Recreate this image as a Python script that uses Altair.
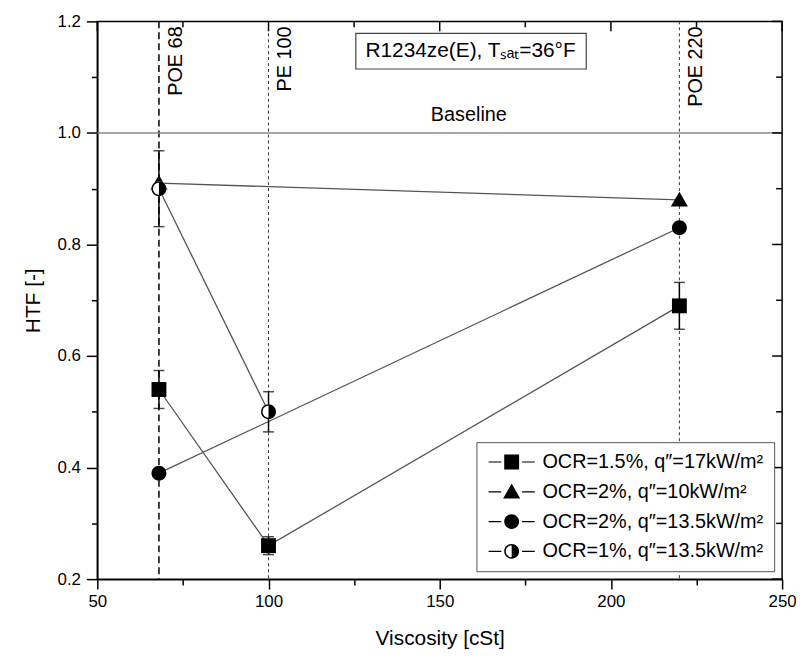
import altair as alt
import pandas as pd

# ---------------- data ----------------
series_names = [
    "OCR=1.5%, q\u2033=17kW/m\u00b2",
    "OCR=2%, q\u2033=10kW/m\u00b2",
    "OCR=2%, q\u2033=13.5kW/m\u00b2",
    "OCR=1%, q\u2033=13.5kW/m\u00b2",
]

sq_x = [68, 100, 220]
sq_y = [0.54, 0.26, 0.69]
sq_err = [0.034, 0.016, 0.042]

tri_x = [68, 220]
tri_y = [0.91, 0.88]

cir_x = [68, 220]
cir_y = [0.39, 0.83]

half_x = [68, 100]
half_y = [0.90, 0.50]
half_err = [0.068, 0.036]

oil_x = [68, 100, 220]
oil_labels = ["POE 68", "PE 100", "POE 220"]
baseline_y = [1.0]

x_ticks = [50, 75, 100, 125, 150, 175, 200, 225, 250]
x_major = [50, 100, 150, 200, 250]
x_minor = [75, 125, 175, 225]
y_ticks = [0.2, 0.3, 0.4, 0.5, 0.6, 0.7, 0.8, 0.9, 1.0, 1.1, 1.2]
y_major = [0.2, 0.4, 0.6, 0.8, 1.0, 1.2]
y_minor = [0.3, 0.5, 0.7, 0.9, 1.1]

title_text = "R1234ze(E), T\u209b\u2090\u209c=36\u00b0F"
title_x = [159]
title_y = [1.1465]
box_x = [125.5, 192.8]
box_y = [1.1146, 1.1786]
baseline_label = "Baseline"
baseline_lab_x = [158.5]
baseline_lab_y = [1.014]

# ---------------- style ----------------
W, H = 690, 562
FONT = "Liberation Sans, Arial, sans-serif"
LINE = "#555555"

P_SQ = "M-1,-1H1V1H-1Z"
P_TRI = "M0,-1.1L1.15,0.9L-1.15,0.9Z"
P_CIR = "M1,0A1,1 0 1,1 -1,0A1,1 0 1,1 1,0Z"
P_HALF = "M0,-1A1,1 0 0,1 0,1Z M0,1A1,1 0 0,1 0,-1L0,-0.8A0.8,0.8 0 0,0 0,0.8Z"
SEG = "M-3.1,-0.08H-1.4V0.08H-3.1Z M1.4,-0.08H3.1V0.08H1.4Z"
legend_paths = [P_SQ + " " + SEG, P_TRI + " " + SEG, P_CIR + " " + SEG, P_HALF + " " + SEG]

xs = alt.Scale(domain=[50, 250], nice=False, zero=False)
ys = alt.Scale(domain=[0.2, 1.2], nice=False, zero=False)

x_axis = alt.Axis(
    title="Viscosity [cSt]", values=x_ticks,
    labelExpr="datum.value % 50 == 0 ? format(datum.value, 'd') : ''",
    tickSize={"condition": {"test": "datum.value % 50 != 0", "value": 6}, "value": 10},
    grid=False, domainColor="black", domainWidth=1.5, tickColor="black", tickWidth=1.5,
    labelFont=FONT, labelFontSize=17, labelColor="black", labelPadding=5,
    labelOverlap=False, labelFlush=False,
    titleFont=FONT, titleFontSize=21, titleFontWeight="normal", titleColor="black",
    titlePadding=18,
)
y_axis = alt.Axis(
    title="HTF [-]", values=y_ticks,
    labelExpr="round(datum.value*10) % 2 == 0 ? format(datum.value, '.1f') : ''",
    tickSize={"condition": {"test": "round(datum.value*10) % 2 == 1", "value": 6}, "value": 11},
    grid=False, domainColor="black", domainWidth=1.5, tickColor="black", tickWidth=1.5,
    labelFont=FONT, labelFontSize=17, labelColor="black", labelPadding=6,
    labelOverlap=False, labelFlush=False,
    titleFont=FONT, titleFontSize=21, titleFontWeight="normal", titleColor="black",
    titlePadding=14,
)


def X(field):
    return alt.X(field, type="quantitative", scale=xs, axis=x_axis)


def Y(field):
    return alt.Y(field, type="quantitative", scale=ys, axis=y_axis)


# ---------------- frames ----------------
oil_df = pd.DataFrame({"x": oil_x, "label": oil_labels})
base_df = pd.DataFrame({"y": baseline_y})

sq_df = pd.DataFrame({"x": sq_x, "y": sq_y})
tri_df = pd.DataFrame({"x": tri_x, "y": tri_y})
cir_df = pd.DataFrame({"x": cir_x, "y": cir_y})
half_df = pd.DataFrame({"x": half_x, "y": half_y})

line_df = pd.concat([
    sq_df.assign(series=series_names[0]),
    tri_df.assign(series=series_names[1]),
    cir_df.assign(series=series_names[2]),
    half_df.assign(series=series_names[3]),
], ignore_index=True)

err_df = pd.DataFrame({
    "x": sq_x + half_x,
    "lo": [v - e for v, e in zip(sq_y, sq_err)] + [v - e for v, e in zip(half_y, half_err)],
    "hi": [v + e for v, e in zip(sq_y, sq_err)] + [v + e for v, e in zip(half_y, half_err)],
})

leg_df = pd.DataFrame({"series": series_names, "x": [None] * 4, "y": [None] * 4})

# ---------------- layers ----------------
vline_main = alt.Chart(oil_df[oil_df["x"] == 68]).mark_rule(
    color="black", strokeWidth=1.5, strokeDash=[7, 4]).encode(x=X("x"))
vline_other = alt.Chart(oil_df[oil_df["x"] != 68]).mark_rule(
    color="#333333", strokeWidth=1, strokeDash=[3, 3]).encode(x=X("x"))
base_rule = alt.Chart(base_df).mark_rule(color="#8a8a8a", strokeWidth=1.5).encode(y=Y("y"))

lines = alt.Chart(line_df).mark_line(color=LINE, strokeWidth=1.3).encode(
    x=X("x"), y=Y("y"), detail="series:N")

errbar = alt.Chart(err_df).mark_errorbar(ticks={"size": 11}, thickness=1.5, color="black").encode(
    x=X("x"), y=Y("lo"), y2="hi:Q")


def pts(df, path, fill="black"):
    return alt.Chart(df).mark_point(shape=path, filled=True, fill=fill, color=fill,
                                    size=225, opacity=1, strokeWidth=0).encode(x=X("x"), y=Y("y"))


p_tri = pts(tri_df, P_TRI)
p_cir = pts(cir_df, P_CIR)
p_sq = pts(sq_df, P_SQ)
p_half_bg = pts(half_df, P_CIR, fill="white")
p_half = pts(half_df, P_HALF)

oil_text = alt.Chart(oil_df).mark_text(
    angle=270, align="right", baseline="top", dy=7, fontSize=20, font=FONT, color="black"
).encode(x=X("x"), y=alt.value(5), text="label:N")

base_text = alt.Chart(pd.DataFrame({"x": baseline_lab_x, "y": baseline_lab_y, "t": [baseline_label]})).mark_text(
    fontSize=20, font=FONT, color="black", baseline="bottom").encode(x=X("x"), y=Y("y"), text="t:N")

box_df = pd.DataFrame({"x": [box_x[0]], "x2": [box_x[1]], "y": [box_y[0]], "y2": [box_y[1]]})
box = alt.Chart(box_df).mark_rect(fill="white", stroke="#444444", strokeWidth=1.2).encode(
    x=X("x"), x2="x2:Q", y=Y("y"), y2="y2:Q")
title_t = alt.Chart(pd.DataFrame({"x": title_x, "y": title_y, "t": [title_text]})).mark_text(
    fontSize=21, font=FONT, color="black").encode(x=X("x"), y=Y("y"), text="t:N")

# inward ticks on top and right frame
top_major = alt.Chart(pd.DataFrame({"v": x_major})).mark_rule(color="black", strokeWidth=1.5).encode(
    x=X("v"), y=alt.value(0), y2=alt.value(10))
top_minor = alt.Chart(pd.DataFrame({"v": x_minor})).mark_rule(color="black", strokeWidth=1.5).encode(
    x=X("v"), y=alt.value(0), y2=alt.value(6))
right_major = alt.Chart(pd.DataFrame({"v": y_major})).mark_rule(color="black", strokeWidth=1.5).encode(
    y=Y("v"), x=alt.value(W), x2=alt.value(W - 10))
right_minor = alt.Chart(pd.DataFrame({"v": y_minor})).mark_rule(color="black", strokeWidth=1.5).encode(
    y=Y("v"), x=alt.value(W), x2=alt.value(W - 6))

legend_layer = alt.Chart(leg_df).mark_point(filled=True, color="black", opacity=1, size=225).encode(
    x=X("x"), y=Y("y"),
    shape=alt.Shape("series:N", scale=alt.Scale(domain=series_names, range=legend_paths),
                    legend=alt.Legend(title=None, orient="none", legendX=382, legendY=424,
                                      strokeColor="#555555", fillColor="white", padding=10,
                                      labelFont=FONT, labelFontSize=20, labelColor="black",
                                      labelLimit=400, symbolSize=225, symbolOffset=15.5,
                                      labelOffset=21, rowPadding=10, symbolStrokeWidth=0,
                                      symbolFillColor="black", symbolOpacity=1)),
)

chart = alt.layer(
    vline_main, vline_other, base_rule, lines, errbar,
    p_tri, p_cir, p_sq, p_half_bg, p_half,
    oil_text, base_text, box, title_t,
    top_major, top_minor, right_major, right_minor, legend_layer,
).properties(
    width=W, height=H, autosize="none",
    padding={"left": 90, "top": 11, "right": 14, "bottom": 80},
).configure_view(stroke="black", strokeWidth=1.5).configure_axis(
    titleColor="black", labelColor="black")

chart.save("out.html", embed_options={"renderer": "svg", "actions": False})
